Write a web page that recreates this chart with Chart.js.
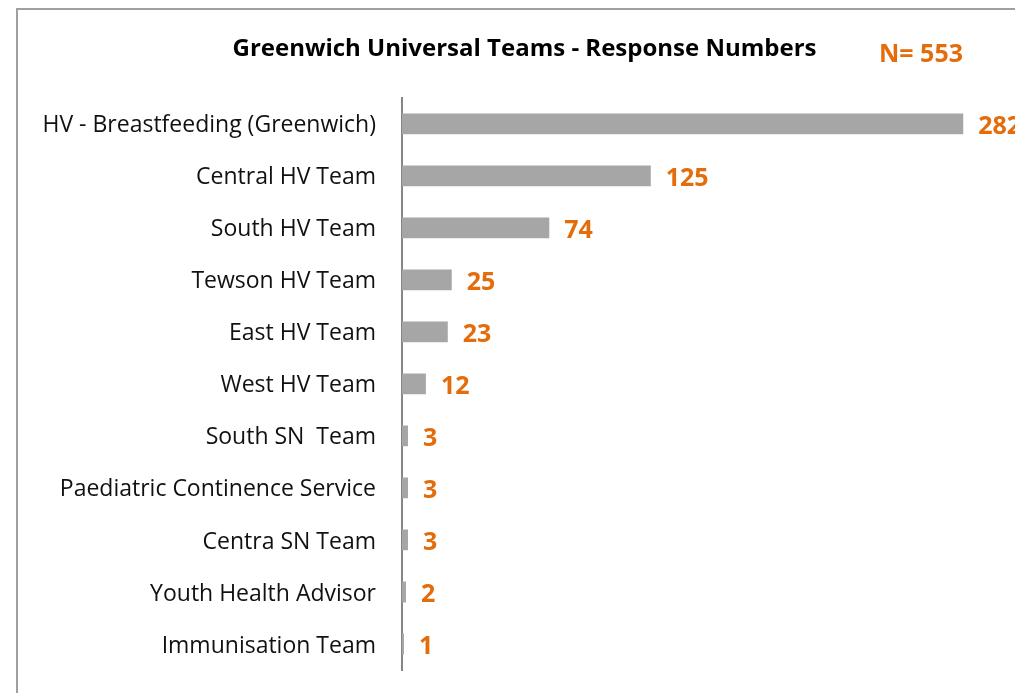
<!DOCTYPE html>
<html>
<head>
<meta charset="utf-8">
<script src="https://cdn.jsdelivr.net/npm/chart.js@4.4.0/dist/chart.umd.min.js"></script>
<style>
  html, body { margin: 0; padding: 0; background: #fff; overflow: hidden; }
  #wrap { position: absolute; left: 0; top: 0; width: 1015px; height: 693px; }
</style>
</head>
<body>
<div id="wrap"><canvas id="c" width="1015" height="693"></canvas></div>
<script>
const categories = [
  "HV - Breastfeeding (Greenwich)",
  "Central HV Team",
  "South HV Team",
  "Tewson HV Team",
  "East HV Team",
  "West HV Team",
  "South SN  Team",
  "Paediatric Continence Service",
  "Centra SN Team",
  "Youth Health Advisor",
  "Immunisation Team"
];
const responses = [282, 125, 74, 25, 23, 12, 3, 3, 3, 2, 1];
const chartTitle = "Greenwich Universal Teams - Response Numbers";
const totalLabel = "N= 553";

const FONT = "'Open Sans', sans-serif";
const ORANGE = "#E46C0A";

const decorPlugin = {
  id: 'decor',
  beforeDraw(chart) {
    const ctx = chart.ctx;
    ctx.save();
    ctx.strokeStyle = '#A0A0A0';
    ctx.lineWidth = 2;
    ctx.beginPath();
    ctx.moveTo(17, 1100);
    ctx.lineTo(17, 9);
    ctx.lineTo(1100, 9);
    ctx.stroke();
    ctx.restore();
  },
  afterDatasetsDraw(chart) {
    const ctx = chart.ctx;
    ctx.save();
    ctx.fillStyle = ORANGE;
    ctx.font = "bold 25px " + FONT;
    ctx.textBaseline = 'middle';
    ctx.textAlign = 'left';
    const meta = chart.getDatasetMeta(0);
    meta.data.forEach((bar, i) => {
      ctx.fillText(String(responses[i]), bar.x + 15, bar.y + 3);
    });
    ctx.fillText(totalLabel, 879, 55);
    ctx.restore();
  }
};

new Chart(document.getElementById('c'), {
  type: 'bar',
  data: {
    labels: categories,
    datasets: [{
      data: responses,
      backgroundColor: '#A6A6A6',
      borderWidth: 0,
      barPercentage: 0.8,
      categoryPercentage: 0.5
    }]
  },
  options: {
    indexAxis: 'y',
    responsive: false,
    animation: false,
    layout: { padding: { top: 26, left: 34, right: 0, bottom: 23 } },
    plugins: {
      legend: { display: false },
      tooltip: { enabled: false },
      title: {
        display: true,
        text: chartTitle,
        color: '#000',
        font: { family: FONT, size: 24, weight: 'bold' },
        padding: { top: 9, bottom: 34 }
      }
    },
    scales: {
      x: {
        display: false,
        min: 0,
        max: 308
      },
      y: {
        afterFit(scale) {
          scale.width = 368;
          scale.paddingTop = 0;
          scale.paddingBottom = 0;
        },
        grid: { display: false, drawTicks: false },
        border: { display: true, color: '#868686', width: 2 },
        ticks: {
          color: '#111',
          padding: 26,
          labelOffset: 2,
          font: { family: FONT, size: 23 }
        }
      }
    }
  },
  plugins: [decorPlugin]
});
</script>
</body>
</html>
